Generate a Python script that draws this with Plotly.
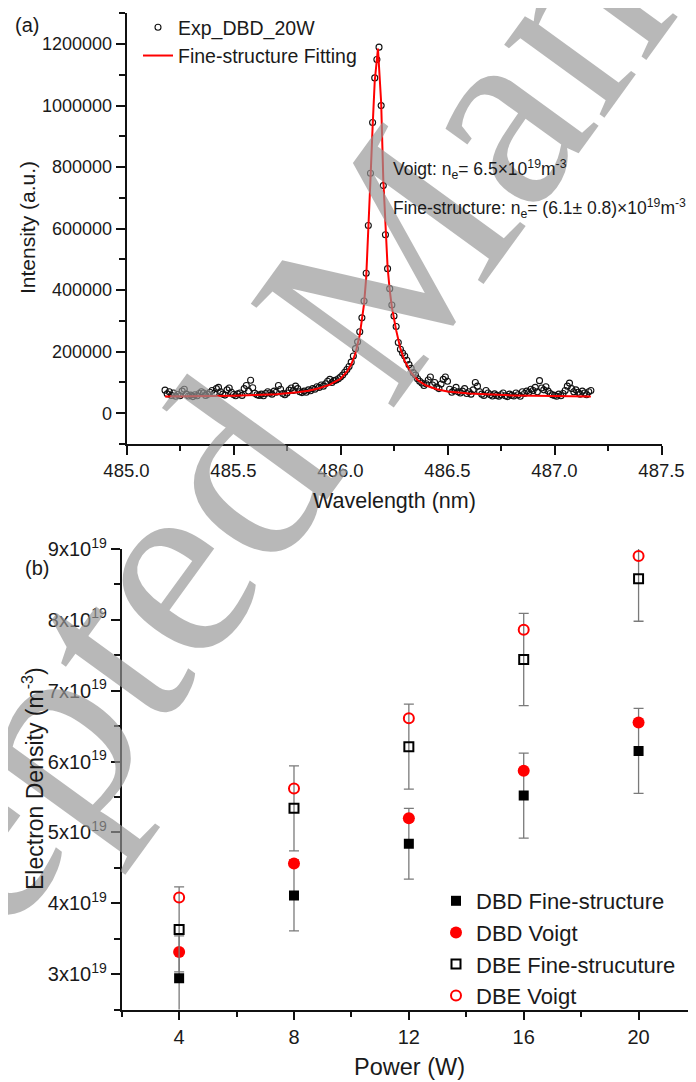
import plotly.graph_objects as go

# ---------------- (a) spectrum data ----------------
wavelength = [
    485.18, 485.19, 485.20, 485.21, 485.22, 485.23, 485.24, 485.25, 485.26, 485.27,
    485.28, 485.29, 485.30, 485.31, 485.32, 485.33, 485.34, 485.35, 485.36, 485.37,
    485.38, 485.39, 485.40, 485.41, 485.42, 485.43, 485.44, 485.45, 485.46, 485.47,
    485.48, 485.49, 485.50, 485.51, 485.52, 485.53, 485.54, 485.55, 485.56, 485.57,
    485.58, 485.59, 485.60, 485.61, 485.62, 485.63, 485.64, 485.65, 485.66, 485.67,
    485.68, 485.69, 485.70, 485.71, 485.72, 485.73, 485.74, 485.75, 485.76, 485.77,
    485.78, 485.79, 485.80, 485.81, 485.82, 485.83, 485.84, 485.85, 485.86, 485.87,
    485.88, 485.89, 485.90, 485.91, 485.92, 485.93, 485.94, 485.95, 485.96, 485.97,
    485.98, 485.99, 486.00, 486.01, 486.02, 486.03, 486.04, 486.05, 486.06, 486.07,
    486.08, 486.09, 486.10, 486.11, 486.12, 486.13, 486.14, 486.15, 486.16, 486.17,
    486.18, 486.19, 486.20, 486.21, 486.22, 486.23, 486.24, 486.25, 486.26, 486.27,
    486.28, 486.29, 486.30, 486.31, 486.32, 486.33, 486.34, 486.35, 486.36, 486.37,
    486.38, 486.39, 486.40, 486.41, 486.42, 486.43, 486.44, 486.45, 486.46, 486.47,
    486.48, 486.49, 486.50, 486.51, 486.52, 486.53, 486.54, 486.55, 486.56, 486.57,
    486.58, 486.59, 486.60, 486.61, 486.62, 486.63, 486.64, 486.65, 486.66, 486.67,
    486.68, 486.69, 486.70, 486.71, 486.72, 486.73, 486.74, 486.75, 486.76, 486.77,
    486.78, 486.79, 486.80, 486.81, 486.82, 486.83, 486.84, 486.85, 486.86, 486.87,
    486.88, 486.89, 486.90, 486.91, 486.92, 486.93, 486.94, 486.95, 486.96, 486.97,
    486.98, 486.99, 487.00, 487.01, 487.02, 487.03, 487.04, 487.05, 487.06, 487.07,
    487.08, 487.09, 487.10, 487.11, 487.12, 487.13, 487.14, 487.15, 487.16, 487.17,
]
intensity_exp = [
    75000, 63000, 70000, 58000, 66000, 55000, 61000, 57000, 72000, 78000,
    62000, 56000, 59000, 54000, 60000, 57000, 64000, 70000, 66000, 58000,
    62000, 68000, 74000, 65000, 80000, 84000, 70000, 62000, 59000, 76000,
    82000, 68000, 61000, 57000, 63000, 66000, 58000, 80000, 90000, 72000,
    107000, 83000, 65000, 60000, 58000, 62000, 57000, 64000, 70000, 66000,
    62000, 72000, 68000, 90000, 78000, 64000, 60000, 66000, 75000, 82000,
    74000, 88000, 80000, 70000, 67000, 72000, 68000, 76000, 73000, 80000,
    78000, 86000, 84000, 92000, 88000, 96000, 104000, 110000, 100000, 106000,
    108000, 112000, 118000, 124000, 133000, 142000, 152000, 166000, 186000, 210000,
    232000, 265000, 310000, 365000, 455000, 610000, 780000, 945000, 1090000, 1150000,
    1190000, 1000000, 740000, 580000, 470000, 405000, 352000, 316000, 282000, 230000,
    208000, 196000, 186000, 172000, 158000, 146000, 132000, 124000, 112000, 104000,
    98000, 90000, 96000, 108000, 118000, 92000, 100000, 85000, 80000, 95000,
    110000, 118000, 104000, 78000, 68000, 74000, 84000, 70000, 66000, 72000,
    80000, 64000, 70000, 62000, 76000, 100000, 88000, 70000, 62000, 58000,
    74000, 66000, 60000, 56000, 63000, 58000, 55000, 60000, 66000, 57000,
    54000, 62000, 58000, 56000, 66000, 60000, 55000, 70000, 64000, 72000,
    68000, 78000, 74000, 84000, 70000, 106000, 82000, 76000, 86000, 72000,
    64000, 60000, 58000, 55000, 62000, 57000, 64000, 74000, 88000, 98000,
    80000, 70000, 76000, 68000, 62000, 72000, 66000, 60000, 70000, 74000,
]
fit_wavelength = [
    485.18, 485.30, 485.40, 485.50, 485.60, 485.70, 485.80, 485.85, 485.90, 485.95,
    486.00, 486.03, 486.05, 486.07, 486.09, 486.10, 486.11, 486.12, 486.13, 486.14,
    486.15, 486.16, 486.175, 486.19, 486.20, 486.21, 486.22, 486.23, 486.24, 486.26,
    486.28, 486.30, 486.33, 486.36, 486.40, 486.45, 486.50, 486.60, 486.70, 486.80,
    486.90, 487.00, 487.17,
]
fit_intensity = [
    54000, 54500, 55500, 57000, 59000, 62000, 68000, 73000, 81000, 93000,
    112000, 135000, 158000, 195000, 255000, 300000, 355000, 440000, 580000, 760000,
    930000, 1080000, 1185000, 1010000, 760000, 590000, 475000, 400000, 345000, 270000,
    210000, 170000, 132000, 108000, 90000, 78000, 71000, 64000, 60000, 58000,
    56500, 55500, 54500,
]

# ---------------- (b) electron density data ----------------
power = [4, 8, 12, 16, 20]
dbd_fine = [2.94e19, 4.11e19, 4.84e19, 5.52e19, 6.15e19]
dbd_fine_err = [0.6e19, 0.5e19, 0.5e19, 0.6e19, 0.6e19]
dbd_voigt = [3.31e19, 4.56e19, 5.20e19, 5.87e19, 6.55e19]
dbe_fine = [3.63e19, 5.34e19, 6.21e19, 7.44e19, 8.58e19]
dbe_fine_err = [0.6e19, 0.6e19, 0.6e19, 0.65e19, 0.6e19]
dbe_voigt = [4.08e19, 5.62e19, 6.61e19, 7.86e19, 8.90e19]

y2_tickvals = [3e19, 4e19, 5e19, 6e19, 7e19, 8e19, 9e19]
y2_ticktext = ["3x10<sup>19</sup>", "4x10<sup>19</sup>", "5x10<sup>19</sup>",
               "6x10<sup>19</sup>", "7x10<sup>19</sup>", "8x10<sup>19</sup>",
               "9x10<sup>19</sup>"]
y2_minorvals = [2.5e19, 3.5e19, 4.5e19, 5.5e19, 6.5e19, 7.5e19, 8.5e19]

W, H = 696, 1082
OFF = 8  # the page body offsets the figure by 8 px
FONT = "Liberation Sans, Arial, sans-serif"
TXT = "#1a1a1a"

def px(x):
    return (x - OFF) / W

def py(y):
    return 1 - (y - OFF) / H

fig = go.Figure()

fig.add_trace(go.Scatter(
    x=wavelength, y=intensity_exp, mode="markers", name="Exp_DBD_20W",
    marker=dict(symbol="circle-open", size=6, color="#111", line=dict(width=1.1, color="#111")),
    xaxis="x", yaxis="y", legend="legend"))
fig.add_trace(go.Scatter(
    x=fit_wavelength, y=fit_intensity, mode="lines", name="Fine-structure Fitting",
    line=dict(color="#ff0000", width=2),
    xaxis="x", yaxis="y", legend="legend"))

err_style = dict(type="data", color="#7a7a7a", thickness=1.3, width=5, visible=True)
fig.add_trace(go.Scatter(
    x=power, y=dbd_fine, mode="markers", name="DBD Fine-structure",
    marker=dict(symbol="square", size=10, color="#000"),
    error_y=dict(array=dbd_fine_err, **err_style),
    xaxis="x2", yaxis="y2", legend="legend2"))
fig.add_trace(go.Scatter(
    x=power, y=dbd_voigt, mode="markers", name="DBD Voigt",
    marker=dict(symbol="circle", size=12, color="#ff0000"),
    xaxis="x2", yaxis="y2", legend="legend2"))
fig.add_trace(go.Scatter(
    x=power, y=dbe_fine, mode="markers", name="DBE Fine-strucuture",
    marker=dict(symbol="square-open", size=9, color="#000", line=dict(width=2, color="#000")),
    error_y=dict(array=dbe_fine_err, **err_style),
    xaxis="x2", yaxis="y2", legend="legend2"))
fig.add_trace(go.Scatter(
    x=power, y=dbe_voigt, mode="markers", name="DBE Voigt",
    marker=dict(symbol="circle-open", size=10, color="#ff0000", line=dict(width=2, color="#ff0000")),
    xaxis="x2", yaxis="y2", legend="legend2"))

axis_common = dict(showline=True, linecolor="#111", linewidth=1.8, ticks="outside",
                   ticklen=9, tickwidth=1.5, tickcolor="#111", showgrid=False,
                   zeroline=False, mirror=False, automargin=False)
minor_common = dict(ticks="outside", ticklen=5.5, tickwidth=1.5, tickcolor="#111")

fig.update_layout(
    width=W, height=H,
    margin=dict(l=0, r=0, t=0, b=0, pad=0, autoexpand=False),
    paper_bgcolor="white", plot_bgcolor="white",
    font=dict(family=FONT, color=TXT),
    xaxis=dict(domain=[px(126.5), px(661.5)], range=[485, 487.5], anchor="y",
               tick0=485, dtick=0.5, tickformat=".1f",
               tickfont=dict(size=18.5, color=TXT),
               minor=dict(dtick=0.25, tick0=485, **minor_common),
               **axis_common),
    yaxis=dict(domain=[py(444), py(13.3)], range=[-100000, 1300000], anchor="x",
               tick0=0, dtick=200000, tickformat="d",
               tickfont=dict(size=18, color=TXT),
               minor=dict(dtick=100000, tick0=0, **minor_common),
               **axis_common),
    xaxis2=dict(domain=[px(121.7), px(696)], range=[2, 22], anchor="y2",
                tickvals=[4, 8, 12, 16, 20],
                tickfont=dict(size=20, color=TXT),
                minor=dict(tickvals=[2, 6, 10, 14, 18, 22], **minor_common),
                **axis_common),
    yaxis2=dict(domain=[py(1009.5), py(549)], range=[2.5e19, 9e19], anchor="x2",
                tickvals=y2_tickvals, ticktext=y2_ticktext,
                tickfont=dict(size=20, color=TXT),
                minor=dict(tickvals=y2_minorvals, **minor_common),
                **axis_common),
    legend=dict(x=px(138), xanchor="left", y=py(8), yanchor="top",
                font=dict(size=19.5, color=TXT), bgcolor="rgba(0,0,0,0)",
                borderwidth=0, tracegroupgap=0),
    legend2=dict(x=px(436), xanchor="left", y=py(880), yanchor="top",
                 font=dict(size=22, color=TXT), bgcolor="rgba(0,0,0,0)",
                 borderwidth=0, tracegroupgap=0),
    showlegend=True,
)

ann = [
    dict(text="Accepted Manuscript", x=px(358), y=py(302),
         textangle=-54,
         font=dict(family="Liberation Serif, Times New Roman, serif", size=270,
                   color="rgba(150,150,150,0.68)")),
    dict(text="(a)", x=px(27), y=py(25), font=dict(size=20, color=TXT)),
    dict(text="(b)", x=px(37), y=py(568), font=dict(size=20, color=TXT)),
    dict(text="Intensity (a.u.)", x=px(27), y=py(228), textangle=-90, font=dict(size=21, color=TXT)),
    dict(text="Wavelength (nm)", x=px(394), y=py(501), font=dict(size=21.5, color=TXT)),
    dict(text="Electron Density (m<sup>-3</sup>)", x=px(33), y=py(779), textangle=-90,
         font=dict(size=23, color=TXT)),
    dict(text="Power (W)", x=px(409), y=py(1067), font=dict(size=23.5, color=TXT)),
    dict(text="Voigt: n<sub>e</sub>= 6.5×10<sup>19</sup>m<sup>-3</sup>", x=px(391), y=py(169),
         xanchor="left", font=dict(size=17.5, color=TXT)),
    dict(text="Fine-structure: n<sub>e</sub>= (6.1± 0.8)×10<sup>19</sup>m<sup>-3</sup>", x=px(391), y=py(208),
         xanchor="left", font=dict(size=17.5, color=TXT)),
]
for a in ann:
    a.setdefault("xref", "paper")
    a.setdefault("yref", "paper")
    a.setdefault("showarrow", False)
    a.setdefault("xanchor", "center")
    a.setdefault("yanchor", "middle")
fig.update_layout(annotations=ann)

fig.write_html("out.html")
